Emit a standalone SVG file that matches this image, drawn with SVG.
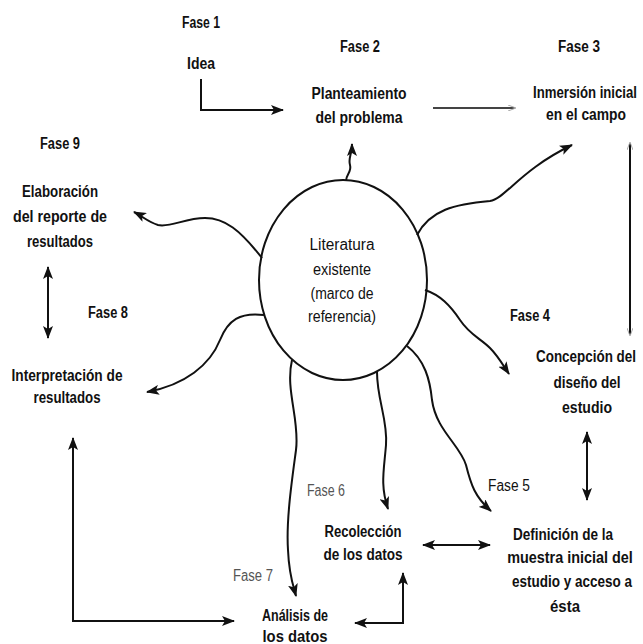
<svg xmlns="http://www.w3.org/2000/svg" width="643" height="644" viewBox="0 0 643 644">
<style>
text{font-family:"Liberation Sans",Arial,sans-serif;font-size:16px;fill:#111;text-anchor:middle}
.b{font-weight:bold}
.r{font-weight:normal}
.g{font-weight:normal;fill:#555}
.c{fill:none;stroke:#111;stroke-width:2}
.f{fill:none;stroke:#444;stroke-width:2}
</style>
<defs>
<marker id="ah" markerUnits="userSpaceOnUse" markerWidth="13" markerHeight="10" refX="12" refY="5" orient="auto-start-reverse"><path d="M0,0 L13,5 L0,10 L3,5 z" fill="#111"/></marker>
<marker id="fa" markerUnits="userSpaceOnUse" markerWidth="8" markerHeight="6" refX="7" refY="3" orient="auto-start-reverse"><path d="M0,0 L8,3 L0,6" fill="none" stroke="#aaa" stroke-width="1"/></marker>
</defs>
<rect width="643" height="644" fill="#fff"/>
<g id="connectors">
<path class="c" d="M201,79 V110 H283" marker-end="url(#ah)"/>
<path class="f" d="M433,108 H515" marker-end="url(#fa)"/>
<path class="c" d="M630,143 V335" marker-start="url(#fa)" marker-end="url(#fa)"/>
<path class="c" d="M346,181 C346,174 352,172 350,165 C348,158 352,154 352,144" marker-end="url(#ah)"/>
<path class="c" d="M417,235 C430,210 455,204 490,201 C505,199 520,170 572,145" marker-end="url(#ah)"/>
<path class="c" d="M262,258 C240,230 225,218 205,218 C185,218 170,228 158,225 C148,222 142,216 134,212" marker-end="url(#ah)"/>
<path class="c" d="M264,315 C240,312 228,320 220,340 C210,365 185,385 147,392" marker-end="url(#ah)"/>
<path class="c" d="M292,360 C285,390 300,420 296,450 C292,480 286,520 288,550 C289,575 293,585 296,596" marker-end="url(#ah)"/>
<path class="c" d="M377,372 C377,400 388,420 386,445 C384,470 380,485 388,509" marker-end="url(#ah)"/>
<path class="c" d="M407,346 C425,360 430,380 432,400 C436,430 460,445 466,465 C471,485 475,497 491,511" marker-end="url(#ah)"/>
<path class="c" d="M425,290 C440,295 450,305 460,320 C470,335 480,338 490,348 C498,356 503,365 509,374" marker-end="url(#ah)"/>
<path class="c" d="M48,267 V338" marker-start="url(#ah)" marker-end="url(#ah)"/>
<path class="c" d="M587,432 V500" marker-start="url(#ah)" marker-end="url(#ah)"/>
<path class="c" d="M423,545 H490" marker-start="url(#ah)" marker-end="url(#ah)"/>
<path class="c" d="M355,623 H403 V573" marker-start="url(#ah)" marker-end="url(#ah)"/>
<path class="c" d="M73,438 V621 H234" marker-start="url(#ah)" marker-end="url(#ah)"/>
</g>
<g id="literatura">
<ellipse cx="343" cy="280" rx="84" ry="100" fill="none" stroke="#111" stroke-width="2"/>
<text class="r" x="342" y="250" textLength="65" lengthAdjust="spacingAndGlyphs">Literatura</text>
<text class="r" x="342" y="275" textLength="58" lengthAdjust="spacingAndGlyphs">existente</text>
<text class="r" x="342" y="299" textLength="63" lengthAdjust="spacingAndGlyphs">(marco de</text>
<text class="r" x="342" y="322" textLength="68" lengthAdjust="spacingAndGlyphs">referencia)</text>
</g>
<g id="fase1">
<text class="b" x="201" y="28" textLength="38" lengthAdjust="spacingAndGlyphs">Fase 1</text>
<text class="b" x="201" y="69" textLength="28" lengthAdjust="spacingAndGlyphs">Idea</text>
</g>
<g id="fase2">
<text class="b" x="360" y="52" textLength="40" lengthAdjust="spacingAndGlyphs">Fase 2</text>
<text class="b" x="359" y="99" textLength="95" lengthAdjust="spacingAndGlyphs">Planteamiento</text>
<text class="b" x="359" y="123" textLength="87" lengthAdjust="spacingAndGlyphs">del problema</text>
</g>
<g id="fase3">
<text class="b" x="579" y="52" textLength="42" lengthAdjust="spacingAndGlyphs">Fase 3</text>
<text class="b" transform="translate(585,98) scale(0.8,1)" x="0" y="0" textLength="130" lengthAdjust="spacingAndGlyphs">Inmersión inicial</text>
<text class="b" x="586" y="120" textLength="80" lengthAdjust="spacingAndGlyphs">en el campo</text>
</g>
<g id="fase4">
<text class="b" x="530" y="321" textLength="40" lengthAdjust="spacingAndGlyphs">Fase 4</text>
<text class="b" transform="translate(586,362) scale(0.8,1)" x="0" y="0" textLength="125" lengthAdjust="spacingAndGlyphs">Concepción del</text>
<text class="b" x="587" y="388" textLength="67" lengthAdjust="spacingAndGlyphs">diseño del</text>
<text class="b" x="587" y="413" textLength="50" lengthAdjust="spacingAndGlyphs">estudio</text>
</g>
<g id="fase5">
<text class="r" x="509" y="491" textLength="42" lengthAdjust="spacingAndGlyphs">Fase 5</text>
<text class="b" x="563" y="540" textLength="100" lengthAdjust="spacingAndGlyphs">Definición de la</text>
<text class="b" transform="translate(570,563) scale(0.8,1)" x="0" y="0" textLength="157" lengthAdjust="spacingAndGlyphs">muestra inicial del</text>
<text class="b" transform="translate(572,587) scale(0.8,1)" x="0" y="0" textLength="150" lengthAdjust="spacingAndGlyphs">estudio y acceso a</text>
<text class="b" x="565" y="612" textLength="30" lengthAdjust="spacingAndGlyphs">ésta</text>
</g>
<g id="fase6">
<text class="g" x="326" y="496" textLength="38" lengthAdjust="spacingAndGlyphs">Fase 6</text>
<text class="b" x="363" y="537" textLength="77" lengthAdjust="spacingAndGlyphs">Recolección</text>
<text class="b" x="363" y="560" textLength="79" lengthAdjust="spacingAndGlyphs">de los datos</text>
</g>
<g id="fase7">
<text class="g" x="253" y="581" textLength="40" lengthAdjust="spacingAndGlyphs">Fase 7</text>
<text class="b" x="295" y="621" textLength="66" lengthAdjust="spacingAndGlyphs">Análisis de</text>
<text class="b" x="295" y="642" textLength="65" lengthAdjust="spacingAndGlyphs">los datos</text>
</g>
<g id="fase8">
<text class="b" x="108" y="318" textLength="40" lengthAdjust="spacingAndGlyphs">Fase 8</text>
<text class="b" x="67" y="381" textLength="111" lengthAdjust="spacingAndGlyphs">Interpretación de</text>
<text class="b" x="67" y="403" textLength="67" lengthAdjust="spacingAndGlyphs">resultados</text>
</g>
<g id="fase9">
<text class="b" x="60" y="149" textLength="40" lengthAdjust="spacingAndGlyphs">Fase 9</text>
<text class="b" x="60" y="197" textLength="76" lengthAdjust="spacingAndGlyphs">Elaboración</text>
<text class="b" x="60" y="222" textLength="94" lengthAdjust="spacingAndGlyphs">del reporte de</text>
<text class="b" x="60" y="247" textLength="66" lengthAdjust="spacingAndGlyphs">resultados</text>
</g>
</svg>
